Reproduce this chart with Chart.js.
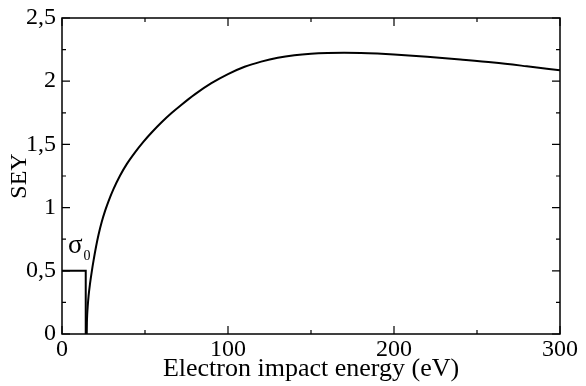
<!DOCTYPE html>
<html>
<head>
<meta charset="utf-8">
<script src="https://cdn.jsdelivr.net/npm/chart.js@4.4.1/dist/chart.umd.min.js"></script>
<style>
  html, body { margin: 0; padding: 0; background: #fff; }
  #wrap { width: 586px; height: 386px; }
</style>
</head>
<body>
<div id="wrap"><canvas id="c" width="586" height="386"></canvas></div>
<script>
// Secondary electron yield versus impact energy
const energies = [14.9, 15.0, 15.2, 15.5, 16.0, 16.9, 18.0, 19.0, 20.5, 22, 24, 26, 28, 31, 35, 39, 44, 49, 54, 60, 66, 72, 80, 90, 100, 110, 120, 130, 140, 150, 160, 170, 180, 190, 200, 220, 240, 260, 280, 300];
const seyValues = [0, 0.09, 0.16, 0.22, 0.30, 0.40, 0.50, 0.58, 0.69, 0.785, 0.89, 0.976, 1.05, 1.146, 1.254, 1.344, 1.437, 1.52, 1.594, 1.675, 1.748, 1.814, 1.896, 1.984, 2.056, 2.114, 2.155, 2.186, 2.206, 2.218, 2.224, 2.226, 2.224, 2.219, 2.212, 2.194, 2.172, 2.148, 2.118, 2.086];

// Low-energy constant yield sigma_0 below threshold
const stepEnergies = [0, 14.3, 14.3];
const stepValues = [0.5, 0.5, 0];

// Axis ticks
const xMajorTicks = [0, 100, 200, 300];
const xMinorTicks = [50, 150, 250];
const yMajorTicks = [0, 0.5, 1, 1.5, 2, 2.5];
const yMinorTicks = [0.25, 0.75, 1.25, 1.75, 2.25];
const yTickLabels = ['0', '0,5', '1', '1,5', '2', '2,5'];

const serif = '"Liberation Serif", "Times New Roman", serif';

const curve = energies.map((e, i) => ({ x: e, y: seyValues[i] }));
const step = stepEnergies.map((e, i) => ({ x: e, y: stepValues[i] }));

// Frame with inward ticks on all four sides, plus the sigma_0 label
const framePlugin = {
  id: 'frame',
  afterDatasetsDraw(chart) {
    const { ctx, chartArea: a, scales: { x, y } } = chart;
    ctx.save();
    ctx.strokeStyle = '#000';
    ctx.lineWidth = 1.5;
    ctx.strokeRect(a.left, a.top, a.right - a.left, a.bottom - a.top);
    ctx.lineWidth = 1.2;
    ctx.beginPath();
    const xt = (v, len) => {
      const px = x.getPixelForValue(v);
      ctx.moveTo(px, a.bottom); ctx.lineTo(px, a.bottom - len);
      ctx.moveTo(px, a.top); ctx.lineTo(px, a.top + len);
    };
    const yt = (v, len) => {
      const py = y.getPixelForValue(v);
      ctx.moveTo(a.left, py); ctx.lineTo(a.left + len, py);
      ctx.moveTo(a.right, py); ctx.lineTo(a.right - len, py);
    };
    xMajorTicks.forEach(v => xt(v, 8));
    xMinorTicks.forEach(v => xt(v, 4));
    yMajorTicks.forEach(v => yt(v, 8));
    yMinorTicks.forEach(v => yt(v, 4));
    ctx.stroke();

    // sigma_0 label
    const lx = x.getPixelForValue(3.6);
    const ly = y.getPixelForValue(0.64);
    ctx.fillStyle = '#000';
    ctx.textBaseline = 'alphabetic';
    ctx.textAlign = 'left';
    ctx.font = '27px ' + serif;
    ctx.fillText('σ', lx, ly);
    const w = ctx.measureText('σ').width;
    ctx.font = '14px ' + serif;
    ctx.fillText('0', lx + w + 1, ly + 7);
    ctx.restore();
  }
};

new Chart(document.getElementById('c'), {
  type: 'scatter',
  data: {
    datasets: [
      {
        data: curve,
        showLine: true,
        borderColor: '#000',
        borderWidth: 2,
        pointRadius: 0,
        cubicInterpolationMode: 'monotone',
        fill: false
      },
      {
        data: step,
        showLine: true,
        borderColor: '#000',
        borderWidth: 2,
        pointRadius: 0,
        tension: 0,
        fill: false
      }
    ]
  },
  options: {
    responsive: false,
    animation: false,
    devicePixelRatio: 1,
    layout: { padding: { top: 15, right: 26, left: 0, bottom: 0 } },
    plugins: { legend: { display: false }, tooltip: { enabled: false } },
    scales: {
      x: {
        type: 'linear',
        min: 0,
        max: 300,
        afterBuildTicks: s => { s.ticks = xMajorTicks.map(v => ({ value: v })); },
        afterFit: s => { s.height = 52; },
        grid: { display: false, drawTicks: false },
        border: { display: false },
        ticks: {
          color: '#000',
          font: { family: serif, size: 24, lineHeight: 1 },
          padding: 4,
          maxRotation: 0,
          callback: v => String(v)
        },
        title: {
          display: true,
          text: 'Electron impact energy (eV)',
          color: '#000',
          font: { family: serif, size: 26, lineHeight: 1 },
          padding: { top: 0, bottom: 4 }
        }
      },
      y: {
        type: 'linear',
        min: 0,
        max: 2.5,
        afterBuildTicks: s => { s.ticks = yMajorTicks.map(v => ({ value: v })); },
        afterFit: s => { s.width = 62; },
        grid: { display: false, drawTicks: false },
        border: { display: false },
        ticks: {
          color: '#000',
          font: { family: serif, size: 24, lineHeight: 1 },
          padding: 6,
          callback: v => yTickLabels[yMajorTicks.indexOf(v)]
        },
        title: {
          display: true,
          text: 'SEY',
          color: '#000',
          font: { family: serif, size: 24, lineHeight: 1 },
          padding: { top: 8, bottom: 0 }
        }
      }
    }
  },
  plugins: [framePlugin]
});
</script>
</body>
</html>
